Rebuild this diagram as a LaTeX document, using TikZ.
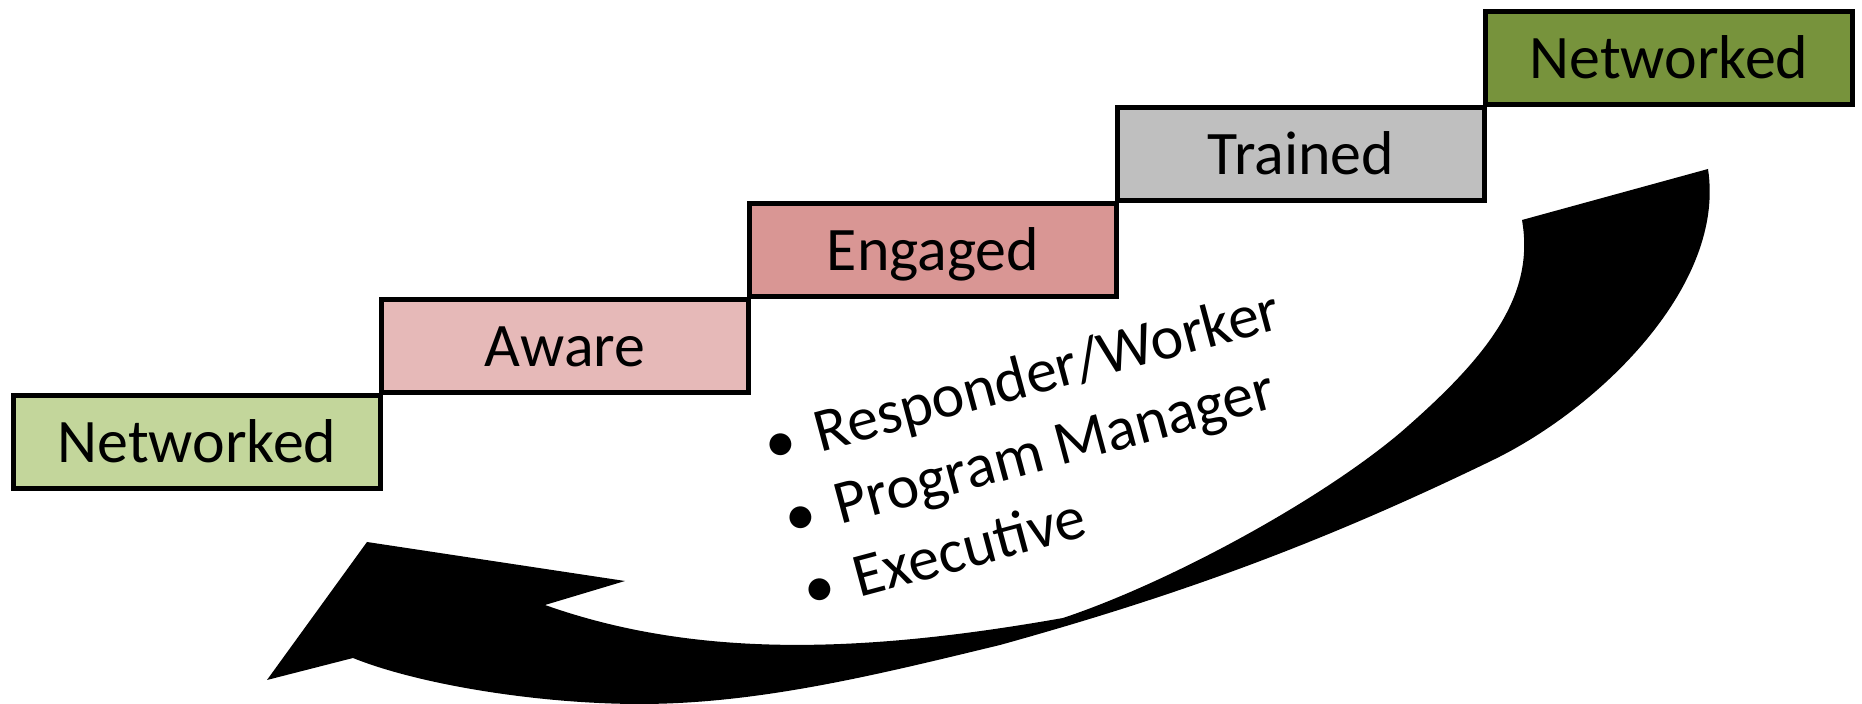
\documentclass[tikz,border=0pt]{standalone}
\usepackage{fontspec}
\setmainfont{Carlito}
\definecolor{netlight}{HTML}{C3D69B}
\definecolor{awarepink}{HTML}{E6B9B8}
\definecolor{engagedred}{HTML}{D99694}
\definecolor{trainedgray}{HTML}{BFBFBF}
\definecolor{netdark}{HTML}{77933C}

\begin{document}
\begin{tikzpicture}[x=0.01cm,y=-0.01cm,
  stage node/.style={draw=black,line width=1.42pt,minimum width=3.66cm,minimum height=0.93cm,
    inner sep=0pt,outer sep=0pt,text height=11.4pt,text depth=0pt,font=\fontsize{17.6}{21.4}\selectfont},
  level node/.style={rotate=15,anchor=base west,align=left,inner sep=0pt,font=\fontsize{17.6}{21.4}\selectfont}]
  \useasboundingbox (0,0) rectangle (1862,704);
  % the big curved arrow
  \fill (1522,220) -- (1708,169)
    .. controls (1726,285) and (1600,408) .. (1493,460)
    .. controls (1322,543) and (1180,595) .. (1000,645)
    .. controls (880,674) and (760,704) .. (640,704)
    .. controls (540,704) and (420,685) .. (353,658)
    -- (267,680) -- (367,542) -- (625,581) -- (545,605)
    .. controls (700,660) and (870,652) .. (1063,618)
    .. controls (1168,583) and (1318,502) .. (1400,433)
    .. controls (1490,355) and (1535,295) .. (1522,220) -- cycle;
  \node[stage node,fill=netlight]    (s0) at (197,442)  {Networked};
  \node[stage node,fill=awarepink]   (s1) at (565,346)  {Aware};
  \node[stage node,fill=engagedred]  (s2) at (933,250)  {Engaged};
  \node[stage node,fill=trainedgray] (s3) at (1301,154) {Trained};
  \node[stage node,fill=netdark]     (s4) at (1669,58)  {Networked};
  % base west is the baseline of the last line
  \node[level node] (lv) at (809,611)
    {•\hspace{6pt}Responder/Worker\\ •\hspace{6pt}Program Manager\\ •\hspace{6pt}Executive};
\end{tikzpicture}
\end{document}
